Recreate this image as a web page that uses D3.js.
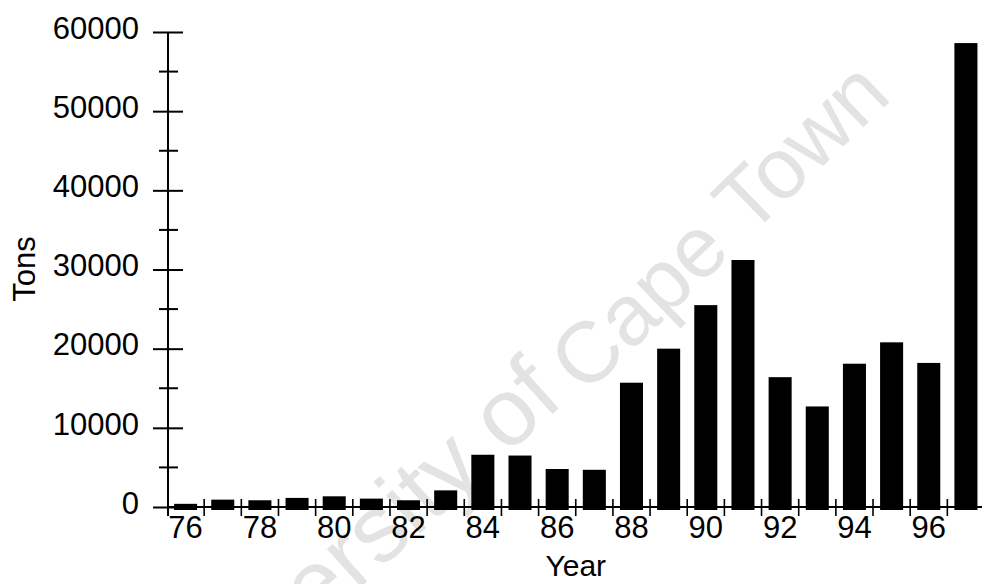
<!DOCTYPE html>
<html>
<head>
<meta charset="utf-8">
<script src="https://cdn.jsdelivr.net/npm/d3@7/dist/d3.min.js"></script>
<style>
  html, body { margin: 0; padding: 0; background: #fff; }
  svg { display: block; }
  text { font-family: "Liberation Sans", Arial, Helvetica, sans-serif; }
</style>
</head>
<body>
<svg id="chart" width="982" height="584"></svg>
<script>
const years = ["76","77","78","79","80","81","82","83","84","85","86","87","88","89","90","91","92","93","94","95","96","97"];
const tons  = [400, 930, 850, 1150, 1350, 1060, 850, 2100, 6600, 6500, 4800, 4700, 15700, 20000, 25500, 31200, 16400, 12700, 18100, 20800, 18200, 58600];
const yMajorTicks = [0, 10000, 20000, 30000, 40000, 50000, 60000];
const yMinorTicks = [5000, 15000, 25000, 35000, 45000, 55000];
const xLabelYears = ["76","78","80","82","84","86","88","90","92","94","96"];
const xTitle = "Year";
const yTitle = "Tons";
const watermarkParts = ["University of", "Cape Town"];

const svg = d3.select("#chart");
const x0 = 167, x1 = 984.5, yTop = 32, yBase = 507;

const x = d3.scaleBand().domain(years).range([x0, x1]).paddingInner(0.38).paddingOuter(0.19);
const y = d3.scaleLinear().domain([0, 60000]).range([yBase, yTop]);

// watermark (light grey, behind the bars)
const wm = svg.append("g").attr("fill", "#e3e3e3");
wm.append("text")
  .attr("transform", "translate(566,402) rotate(-42)")
  .attr("text-anchor", "end")
  .attr("font-size", 96)
  .text(watermarkParts[0]);
wm.append("text")
  .attr("transform", "translate(585,396) rotate(-44)")
  .attr("text-anchor", "start")
  .attr("font-size", 86)
  .text(watermarkParts[1]);

// bars
svg.append("g").selectAll("rect").data(years).join("rect")
  .attr("x", d => x(d))
  .attr("width", x.bandwidth())
  .attr("y", (d, i) => y(tons[i]))
  .attr("height", (d, i) => y(0) - y(tons[i]) + 3)
  .attr("fill", "#000");

// x axis line + boundary ticks
const gx = svg.append("g");
gx.append("line").attr("x1", x0).attr("x2", 982).attr("y1", yBase).attr("y2", yBase)
  .attr("stroke", "#000").attr("stroke-width", 2);
const bounds = years.map(d => x(d) + x.bandwidth() / 2 - x.step() / 2).concat([x(years[years.length-1]) + x.bandwidth()/2 + x.step()/2]);
gx.selectAll("line.bt").data(bounds.slice(1)).join("line").attr("class", "bt")
  .attr("x1", d => d).attr("x2", d => d)
  .attr("y1", yBase - 8).attr("y2", yBase + 9)
  .attr("stroke", "#000").attr("stroke-width", 1.6);

// x labels
const xAxis = d3.axisBottom(x).tickValues(xLabelYears).tickSize(0).tickPadding(0);
const gxl = svg.append("g").attr("transform", `translate(0,${yBase})`).call(xAxis);
gxl.select(".domain").remove();
gxl.selectAll("text").attr("font-size", 31).attr("font-family", "Liberation Sans, Arial, sans-serif")
  .attr("fill", "#000").attr("dy", null).attr("y", 31);

// y axis
const yAxis = d3.axisLeft(y).tickValues(yMajorTicks).tickSize(0).tickPadding(0).tickFormat(d3.format("d"));
const gy = svg.append("g").attr("transform", `translate(${x0 + 1},0)`).call(yAxis);
gy.select(".domain").remove();
gy.selectAll(".tick line").attr("x1", -15).attr("x2", 15).attr("stroke", "#000").attr("stroke-width", 2);
gy.selectAll(".tick text").attr("x", -29).attr("dy", "0.2em").attr("font-size", 31)
  .attr("font-family", "Liberation Sans, Arial, sans-serif").attr("fill", "#000");
gy.append("line").attr("x1", 0).attr("x2", 0).attr("y1", yTop).attr("y2", yBase + 9)
  .attr("stroke", "#000").attr("stroke-width", 2);
gy.selectAll("line.minor").data(yMinorTicks).join("line").attr("class", "minor")
  .attr("x1", -9).attr("x2", 10).attr("y1", d => y(d)).attr("y2", d => y(d))
  .attr("stroke", "#000").attr("stroke-width", 2);

// titles
svg.append("text").attr("x", (x0 + x1) / 2).attr("y", 576).attr("text-anchor", "middle")
  .attr("font-size", 30).attr("fill", "#000").text(xTitle);
svg.append("text").attr("transform", "translate(35,269) rotate(-90)").attr("text-anchor", "middle")
  .attr("font-size", 31).attr("fill", "#000").text(yTitle);
</script>
</body>
</html>
